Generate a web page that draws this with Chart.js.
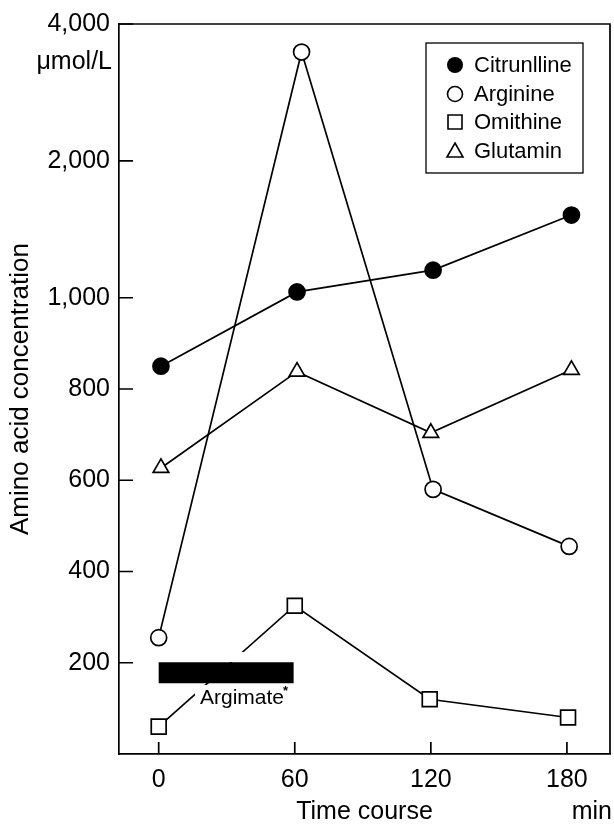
<!DOCTYPE html>
<html>
<head>
<meta charset="utf-8">
<script src="https://cdn.jsdelivr.net/npm/chart.js@4/dist/chart.umd.min.js"></script>
<style>
  html, body { margin: 0; padding: 0; background: #fff; }
  #wrap { width: 614px; height: 827px; }
</style>
</head>
<body>
<div id="wrap"><canvas id="chart"></canvas></div>
<script>
// values (µmol/L against minutes)
const seriesNames = ['Citrunlline', 'Arginine', 'Omithine', 'Glutamin'];
const citrullineTime = [1, 61, 121, 182];
const citrullineValues = [850, 1030, 1150, 1520];
const arginineTime = [0, 63, 121, 181];
const arginineValues = [255, 3470, 580, 455];
const ornithineTime = [0, 60, 119.5, 180.5];
const ornithineValues = [60, 325, 120, 80];
const glutaminTime = [1, 61, 120, 182];
const glutaminValues = [627, 838, 704, 842];

const timeTicks = [0, 60, 120, 180];
const concTicks = [200, 400, 600, 800, 1000, 2000, 4000];
const concTickLabels = ['200', '400', '600', '800', '1,000', '2,000', '4,000'];

// infusion bar
const argimateSpan = [0, 59.5];
const argimateLevel = 178;

const FONT = '"Liberation Sans", Arial, sans-serif';

// axis is linear up to 1,000, logarithmic above
function toAxis(v) {
    return v <= 1000 ? v : 1000 + 300 * Math.log2(v / 1000);
}

function points(times, values) {
    return times.map((t, i) => ({ x: t, y: toAxis(values[i]) }));
}

function noPadding(s) {
    s.paddingLeft = 0;
    s.paddingRight = 0;
    s.paddingTop = 0;
    s.paddingBottom = 0;
}

const lineStyle = {
    borderColor: '#000',
    borderWidth: 1.7,
    pointBorderColor: '#000',
    pointBorderWidth: 1.7,
    tension: 0
};

const framePlugin = {
    id: 'frame',
    afterDatasetsDraw(chart) {
        const ctx = chart.ctx;
        const x = chart.scales.x, y = chart.scales.y;
        const a = chart.chartArea;
        ctx.save();
        ctx.strokeStyle = '#000';
        ctx.fillStyle = '#000';

        // top and right edges of the frame
        ctx.lineWidth = 1.7;
        ctx.beginPath();
        ctx.moveTo(a.left, a.top);
        ctx.lineTo(a.right, a.top);
        ctx.lineTo(a.right, a.bottom);
        ctx.stroke();

        // inward ticks
        ctx.beginPath();
        concTicks.forEach(v => {
            const py = y.getPixelForValue(toAxis(v));
            ctx.moveTo(a.left, py);
            ctx.lineTo(a.left + 14, py);
        });
        timeTicks.forEach(t => {
            const px = x.getPixelForValue(t);
            ctx.moveTo(px, a.bottom);
            ctx.lineTo(px, a.bottom - 12);
        });
        ctx.stroke();

        // unit texts
        ctx.font = '25px ' + FONT;
        ctx.textBaseline = 'middle';
        ctx.textAlign = 'right';
        ctx.fillText('\u03bcmol/L', 112, 62);
        ctx.fillText('min', 612, 812);
        ctx.textAlign = 'left';

        // Argimate label with white backing over the line
        ctx.fillStyle = '#fff';
        ctx.fillRect(200, 652, 94, 10);
        ctx.fillRect(195, 685, 97, 26);
        ctx.fillStyle = '#000';
        ctx.font = '21px ' + FONT;
        ctx.fillText('Argimate', 200, 698);
        ctx.font = 'bold 13px ' + FONT;
        ctx.fillText('*', 283, 691);

        // legend
        const lx = 426, ly = 43, lw = 157, lh = 130;
        ctx.lineWidth = 1.3;
        ctx.strokeRect(lx, ly, lw, lh);
        const rows = [65, 94, 122, 151];
        ctx.font = '22px ' + FONT;
        seriesNames.forEach((name, i) => {
            const cy = rows[i], cx = 455;
            ctx.lineWidth = 1.6;
            ctx.beginPath();
            if (i === 0) {
                ctx.arc(cx, cy, 8, 0, Math.PI * 2);
                ctx.fill();
            } else if (i === 1) {
                ctx.arc(cx, cy, 7.5, 0, Math.PI * 2);
                ctx.stroke();
            } else if (i === 2) {
                ctx.rect(cx - 7, cy - 7, 14, 14);
                ctx.stroke();
            } else {
                ctx.moveTo(cx, cy - 8);
                ctx.lineTo(cx + 8, cy + 6);
                ctx.lineTo(cx - 8, cy + 6);
                ctx.closePath();
                ctx.stroke();
            }
            ctx.fillText(name, 474, cy + 1);
        });
        ctx.restore();
    }
};

new Chart(document.getElementById('chart'), {
    type: 'line',
    data: {
        datasets: [
            Object.assign({ label: seriesNames[0], data: points(citrullineTime, citrullineValues),
                pointStyle: 'circle', pointRadius: 8, pointBackgroundColor: '#000' }, lineStyle),
            Object.assign({ label: seriesNames[1], data: points(arginineTime, arginineValues),
                pointStyle: 'circle', pointRadius: 8, pointBackgroundColor: '#fff' }, lineStyle),
            Object.assign({ label: seriesNames[2], data: points(ornithineTime, ornithineValues),
                pointStyle: 'rect', pointRadius: 10.5, pointBackgroundColor: '#fff' }, lineStyle),
            Object.assign({ label: seriesNames[3], data: points(glutaminTime, glutaminValues),
                pointStyle: 'triangle', pointRadius: 9, pointBackgroundColor: '#fff' }, lineStyle),
            {
                label: 'Argimate',
                data: argimateSpan.map(t => ({ x: t, y: argimateLevel })),
                borderColor: '#000',
                borderWidth: 21,
                borderCapStyle: 'butt',
                pointRadius: 0
            }
        ]
    },
    options: {
        responsive: true,
        maintainAspectRatio: false,
        animation: false,
        layout: { autoPadding: false, padding: { top: 24, right: 4, left: 0, bottom: 0 } },
        plugins: {
            legend: { display: false },
            tooltip: { enabled: false }
        },
        scales: {
            x: {
                type: 'linear',
                min: -17.5,
                max: 199,
                afterBuildTicks: s => { s.ticks = timeTicks.map(v => ({ value: v })); },
                afterFit: s => { s.height = 73; noPadding(s); },
                grid: { display: false },
                border: { display: true, color: '#000', width: 1.7 },
                ticks: {
                    color: '#000',
                    font: { family: FONT, size: 25 },
                    padding: 3,
                    maxRotation: 0,
                    autoSkip: false
                },
                title: {
                    display: true,
                    text: 'Time course',
                    color: '#000',
                    font: { family: FONT, size: 25 },
                    padding: { top: 1, bottom: 0 }
                }
            },
            y: {
                type: 'linear',
                min: 0,
                max: toAxis(4000),
                afterBuildTicks: s => { s.ticks = concTicks.map(v => ({ value: toAxis(v) })); },
                afterFit: s => { s.width = 119; noPadding(s); },
                grid: { display: false },
                border: { display: true, color: '#000', width: 1.7 },
                ticks: {
                    color: '#000',
                    font: { family: FONT, size: 25 },
                    padding: 1,
                    autoSkip: false,
                    callback: value => {
                        const i = concTicks.findIndex(t => Math.abs(toAxis(t) - value) < 1e-6);
                        return i >= 0 ? concTickLabels[i] : '';
                    }
                },
                title: {
                    display: true,
                    text: 'Amino acid concentration',
                    color: '#000',
                    font: { family: FONT, size: 26 },
                    padding: { top: 5, bottom: 0 }
                }
            }
        }
    },
    plugins: [framePlugin]
});
</script>
</body>
</html>
